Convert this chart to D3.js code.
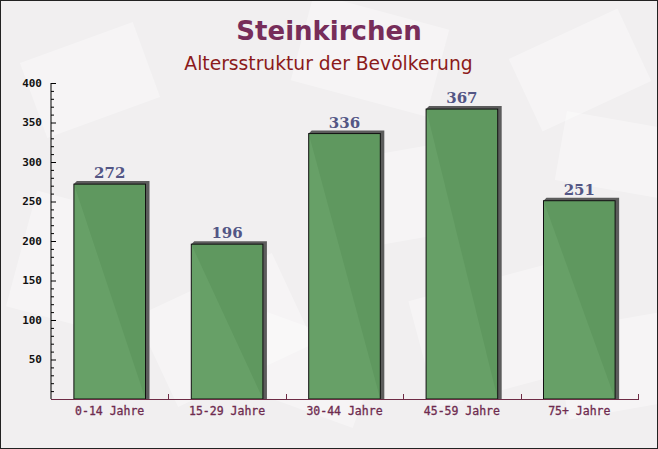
<!DOCTYPE html>
<html><head><meta charset="utf-8">
<script src="https://cdn.jsdelivr.net/npm/d3@7"></script>
<style>html,body{margin:0;padding:0;background:#fff}svg{display:block}</style>
</head><body>
<script>
const categories = ["0-14 Jahre","15-29 Jahre","30-44 Jahre","45-59 Jahre","75+ Jahre"];
const values = [272,196,336,367,251];
const yTicks = [50,100,150,200,250,300,350,400];
const title = "Steinkirchen";
const subtitle = "Altersstruktur der Bevölkerung";

const W=658,H=449;
const svg=d3.select("body").append("svg").attr("width",W).attr("height",H);
svg.append("rect").attr("x",0).attr("y",0).attr("width",W).attr("height",H).attr("fill","#f1eff0");
// faint background decoration
const deco=[[30,40,120,80,-20],[300,10,140,90,15],[520,30,120,80,-25],[340,150,130,90,-10],[560,120,110,70,10],[20,200,90,120,15],[150,280,150,100,-25],[420,280,150,110,-15],[560,320,120,90,-10],[250,330,120,80,20]];
deco.forEach(d=>svg.append("rect").attr("x",d[0]).attr("y",d[1]).attr("width",d[2]).attr("height",d[3])
  .attr("transform",`rotate(${d[4]},${d[0]+d[2]/2},${d[1]+d[3]/2})`).attr("fill","#ffffff").attr("opacity",0.35));

const x0=51,x1=638,yB=399,yT=83;
const x=d3.scaleBand().domain(categories).range([x0,x1]).paddingInner(0.39).paddingOuter(0.195);
const y=d3.scaleLinear().domain([0,400]).range([yB,yT]);

// bars with shadow
const g=svg.append("g");
categories.forEach((c,i)=>{
  const bx=x(c),bw=x.bandwidth(),top=y(values[i]);
  g.append("polygon").attr("points",[[bx,top],[bx+3,top-3],[bx+bw+4,top-3],[bx+bw+4,yB],[bx+bw,yB]].map(p=>p.join(",")).join(" "))
    .attr("fill","#5c5c5c");
  g.append("rect").attr("x",bx).attr("y",top).attr("width",bw).attr("height",yB-top)
    .attr("fill","#5f9b5f").attr("fill-opacity",0.95).attr("stroke","#111").attr("stroke-width",1);
  svg.append("text").attr("x",bx+bw/2).attr("y",top-6).attr("text-anchor","middle")
    .attr("font-family","DejaVu Serif").attr("font-weight","bold").attr("font-size",15)
    .attr("fill","#535685").text(values[i]);
});

// y axis
const ya=svg.append("g").attr("transform",`translate(${x0},0)`);
ya.append("line").attr("x1",0).attr("x2",0).attr("y1",yT).attr("y2",yB).attr("stroke","#000");
d3.range(10,401,10).forEach(v=>{
  ya.append("line").attr("x1",0).attr("x2",v%50===0?5:3).attr("y1",y(v)+0.5).attr("y2",y(v)+0.5).attr("stroke","#000");
});
yTicks.forEach(v=>{
  ya.append("text").attr("x",-9).attr("y",y(v)).attr("dy","0.35em").attr("text-anchor","end")
    .attr("font-family","DejaVu Sans Mono").attr("font-weight","bold").attr("font-size",11).attr("fill","#111").text(v);
});

// x axis
const xa=svg.append("g");
xa.append("line").attr("x1",x0).attr("x2",x1+1).attr("y1",yB+0.5).attr("y2",yB+0.5).attr("stroke","#6e2b45");
const step=(x1-x0)/categories.length;
d3.range(1,categories.length+1).forEach(i=>{
  const tx=Math.round(x0+i*step)+0.5;
  xa.append("line").attr("x1",tx).attr("x2",tx).attr("y1",yB).attr("y2",yB-5).attr("stroke","#6e2b45");
});
categories.forEach(c=>{
  xa.append("text").attr("x",x(c)+x.bandwidth()/2).attr("y",415).attr("text-anchor","middle")
    .attr("font-family","DejaVu Sans Mono").attr("font-size",11.5).attr("fill","#6e2b4f")
    .attr("stroke","#6e2b4f").attr("stroke-width",0.3).text(c);
});

// titles
svg.append("text").attr("x",329).attr("y",40).attr("text-anchor","middle")
  .attr("font-family","DejaVu Sans").attr("font-weight","bold").attr("font-size",26).attr("fill","#772d5a").text(title);
svg.append("text").attr("x",328.5).attr("y",70).attr("text-anchor","middle")
  .attr("font-family","DejaVu Sans").attr("font-size",18.7).attr("fill","#8b1a1a").text(subtitle);

svg.append("rect").attr("x",0.5).attr("y",0.5).attr("width",W-1).attr("height",H-1).attr("fill","none").attr("stroke","#222");
</script>
</body></html>
